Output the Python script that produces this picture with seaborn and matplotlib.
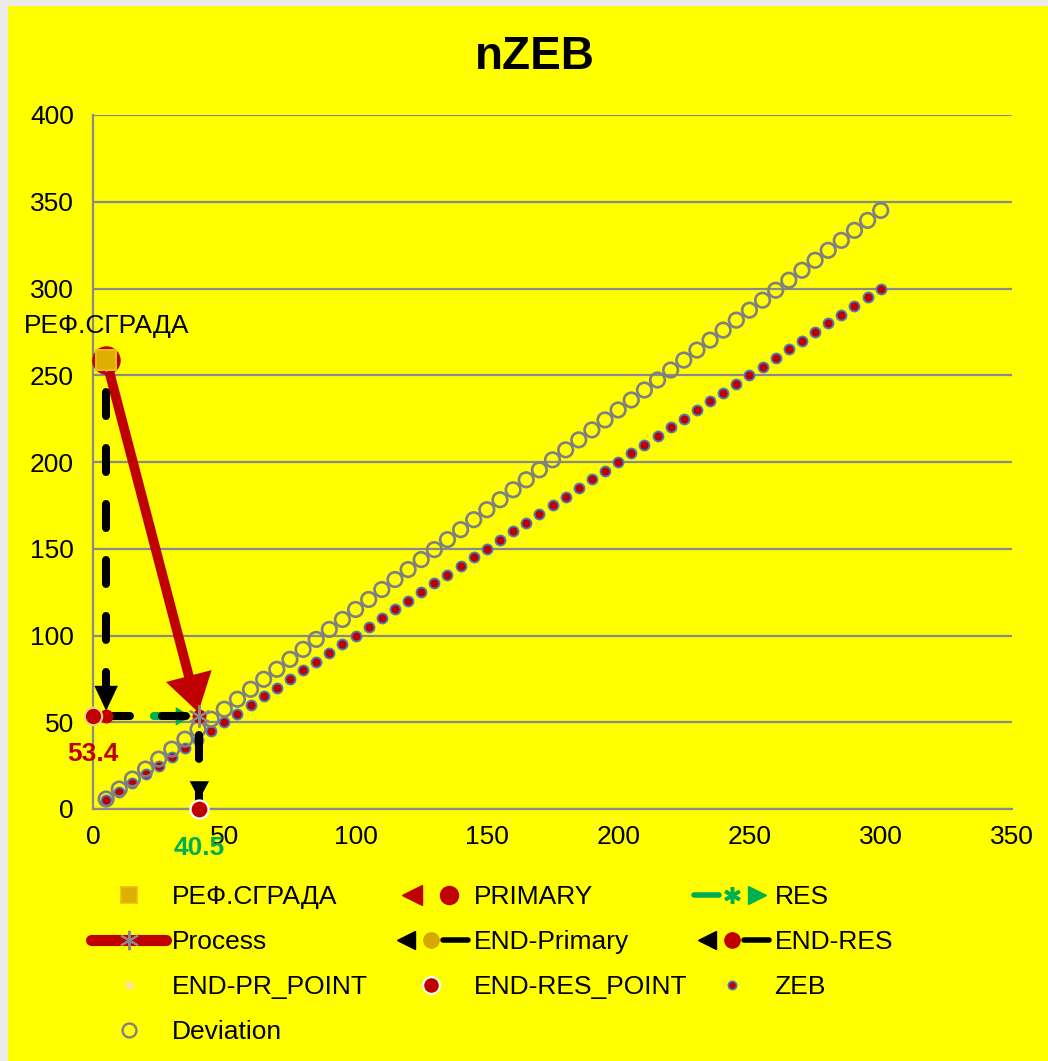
import matplotlib
matplotlib.use("Agg")
import matplotlib.pyplot as plt
import seaborn as sns
import pandas as pd
from matplotlib.lines import Line2D
from matplotlib.patches import Rectangle
from matplotlib.legend_handler import HandlerTuple

# ---------------- data ----------------
zeb_x = [5, 10, 15, 20, 25, 30, 35, 40, 45, 50, 55, 60, 65, 70, 75, 80, 85, 90, 95, 100,
         105, 110, 115, 120, 125, 130, 135, 140, 145, 150, 155, 160, 165, 170, 175, 180,
         185, 190, 195, 200, 205, 210, 215, 220, 225, 230, 235, 240, 245, 250, 255, 260,
         265, 270, 275, 280, 285, 290, 295, 300]
zeb_y = [5, 10, 15, 20, 25, 30, 35, 40, 45, 50, 55, 60, 65, 70, 75, 80, 85, 90, 95, 100,
         105, 110, 115, 120, 125, 130, 135, 140, 145, 150, 155, 160, 165, 170, 175, 180,
         185, 190, 195, 200, 205, 210, 215, 220, 225, 230, 235, 240, 245, 250, 255, 260,
         265, 270, 275, 280, 285, 290, 295, 300]
deviation_x = [5, 10, 15, 20, 25, 30, 35, 40, 45, 50, 55, 60, 65, 70, 75, 80, 85, 90, 95, 100,
               105, 110, 115, 120, 125, 130, 135, 140, 145, 150, 155, 160, 165, 170, 175, 180,
               185, 190, 195, 200, 205, 210, 215, 220, 225, 230, 235, 240, 245, 250, 255, 260,
               265, 270, 275, 280, 285, 290, 295, 300]
deviation_y = [5.75, 11.5, 17.25, 23, 28.75, 34.5, 40.25, 46, 51.75, 57.5, 63.25, 69, 74.75,
               80.5, 86.25, 92, 97.75, 103.5, 109.25, 115, 120.75, 126.5, 132.25, 138, 143.75,
               149.5, 155.25, 161, 166.75, 172.5, 178.25, 184, 189.75, 195.5, 201.25, 207,
               212.75, 218.5, 224.25, 230, 235.75, 241.5, 247.25, 253, 258.75, 264.5, 270.25,
               276, 281.75, 287.5, 293.25, 299, 304.75, 310.5, 316.25, 322, 327.75, 333.5,
               339.25, 345]

ref_x = [5]
ref_y = [259]
ref_label = "РЕФ.СГРАДА"

process_x = [5, 40.5]
process_y = [259, 53.4]

primary_x = [5, 5]
primary_y = [259, 53.4]
end_pr_point_x = [0]
end_pr_point_y = [53.4]

end_primary_x = [5, 5]
end_primary_y = [259, 53.4]

res_x = [5, 40.5]
res_y = [53.4, 53.4]

end_res_x = [5, 40.5, 40.5]
end_res_y = [53.4, 53.4, 0]

end_res_point_x = [40.5]
end_res_point_y = [0]

primary_value = 53.4
res_value = 40.5

x_ticks = [0, 50, 100, 150, 200, 250, 300, 350]
y_ticks = [0, 50, 100, 150, 200, 250, 300, 350, 400]

title = "nZEB"

# ---------------- style ----------------
RED = "#C00000"
GREEN = "#00B050"
GOLD = "#DDAF00"
GOLD_EDGE = "#F0B820"
BLUE = "#4A7EBB"
GREY = "#8A8A8A"
DEV_GREY = "#808080"
YELLOW = "#FFFF00"
FS = 19

sns.set_theme(style="white")
plt.rcParams["font.family"] = ["Liberation Sans", "DejaVu Sans"]
plt.rcParams["text.color"] = "black"

W, H = 1048, 1061
fig = plt.figure(figsize=(W / 100, H / 100), dpi=100)
fig.patch.set_facecolor("#EBEBEB")
fig.add_artist(Rectangle((8 / W, 0), 1, 1 - 6 / H, transform=fig.transFigure,
                         facecolor=YELLOW, edgecolor="none", zorder=-10))

ax = fig.add_axes([93 / W, 1 - 809 / H, 919 / W, 694 / H])
ax.set_facecolor("none")

# scatter series through seaborn
zeb_df = pd.DataFrame({"x": zeb_x, "y": zeb_y})
dev_df = pd.DataFrame({"x": deviation_x, "y": deviation_y})
sns.scatterplot(data=zeb_df, x="x", y="y", ax=ax, s=52, color=RED,
                edgecolor=BLUE, linewidth=1.3, zorder=3, legend=False)
sns.scatterplot(data=dev_df, x="x", y="y", ax=ax, s=110, color=DEV_GREY,
                linewidth=1.9, zorder=4, legend=False)
dev_coll = ax.collections[-1]
dev_coll.set_facecolor("none")
dev_coll.set_edgecolor(DEV_GREY)

# big red circle behind the reference point (PRIMARY start)
ax.plot(primary_x[:1], primary_y[:1], "o", ms=19.5, color=RED, zorder=5, clip_on=False)

# Process arrow
ax.annotate("", xy=(process_x[1], process_y[1]), xytext=(process_x[0], process_y[0]),
            arrowprops=dict(arrowstyle="simple,head_length=2.7,head_width=3.4,tail_width=0.7",
                            fc=RED, ec="none", lw=0, mutation_scale=10,
                            shrinkA=0, shrinkB=3), zorder=6)

# RES green dashed with head
ax.plot(res_x, res_y, color=GREEN, lw=5.8, linestyle=(1.0, (2.97, 3.98)),
        dash_capstyle="round", zorder=6)
ax.annotate("", xy=(res_x[1], res_y[1]), xytext=(res_x[0], res_y[0]),
            arrowprops=dict(arrowstyle="simple,head_length=1.1,head_width=1.35,tail_width=0",
                            fc=GREEN, ec="none", lw=0, mutation_scale=10,
                            shrinkA=0, shrinkB=6), zorder=6)

# END-Primary black dashed vertical with head
ax.plot(end_primary_x, end_primary_y, color="black", lw=5.8,
        linestyle=(2.97, (2.97, 3.98)), dash_capstyle="round", zorder=7)
ax.annotate("", xy=(end_primary_x[1], end_primary_y[1]),
            xytext=(end_primary_x[0], end_primary_y[0]),
            arrowprops=dict(arrowstyle="simple,head_length=1.8,head_width=1.7,tail_width=0",
                            fc="black", ec="none", lw=0, mutation_scale=10,
                            shrinkA=0, shrinkB=4), zorder=8)

# END-RES black dashed path with head
ax.plot(end_res_x, end_res_y, color="black", lw=5.8,
        linestyle=(0, (2.97, 3.98)), dash_capstyle="round", zorder=7)
ax.annotate("", xy=(end_res_x[2], end_res_y[2]), xytext=(end_res_x[1], end_res_y[1]),
            arrowprops=dict(arrowstyle="simple,head_length=1.3,head_width=1.4,tail_width=0",
                            fc="black", ec="none", lw=0, mutation_scale=10,
                            shrinkA=0, shrinkB=7), zorder=8)

# markers
ax.plot(end_res_x[:2], end_res_y[:2], "o", ms=9, color=RED, zorder=8, clip_on=False)
ax.plot(end_pr_point_x, end_pr_point_y, "o", ms=12.5, color=RED, mec="#F5D58A",
        mew=1.5, zorder=9, clip_on=False)
ax.plot(end_res_point_x, end_res_point_y, "o", ms=13, color=RED, mec="white",
        mew=1.6, zorder=9, clip_on=False)
ax.plot(process_x, process_y, linestyle="none", marker=(6, 2, 0), ms=16,
        mec=GREY, mew=1.5, zorder=9, clip_on=False)
ax.plot(ref_x, ref_y, "s", ms=14.5, color=GOLD, mec=GOLD_EDGE, mew=1.5, zorder=10,
        clip_on=False)

# labels
ax.annotate(ref_label, xy=(ref_x[0], ref_y[0]), xytext=(0, 24), textcoords="offset points",
            ha="center", va="center", fontsize=FS, color="black", zorder=11)
ax.annotate(f"{primary_value}", xy=(0, primary_value), xytext=(0, -27),
            textcoords="offset points", ha="center", va="center", fontsize=FS,
            fontweight="bold", color=RED, zorder=11)
ax.annotate(f"{res_value}", xy=(res_value, 0), xytext=(0, -28),
            textcoords="offset points", ha="center", va="center", fontsize=FS,
            fontweight="bold", color=GREEN, zorder=11, annotation_clip=False)

# axes
ax.set_xlim(0, 350)
ax.set_ylim(0, 400)
ax.set_xticks(x_ticks)
ax.set_yticks(y_ticks)
ax.set_xlabel("")
ax.set_ylabel("")
ax.yaxis.grid(True, color=GREY, lw=1.6)
ax.xaxis.grid(False)
ax.set_axisbelow(True)
for s in ["top", "right"]:
    ax.spines[s].set_visible(False)
for s in ["left", "bottom"]:
    ax.spines[s].set_color(GREY)
    ax.spines[s].set_linewidth(1.6)
ax.tick_params(axis="both", which="major", direction="out", length=5.8, width=1.6,
               color=GREY, labelsize=FS, labelcolor="black")
ax.tick_params(axis="x", pad=6)
ax.tick_params(axis="y", pad=8)
ax.set_zorder(2)

fig.text(535 / W, 1 - 57 / H, title, ha="center", va="center", fontsize=33,
         fontweight="bold", color="black")


# ---------------- legend ----------------
def mk(marker, color, ms, mec=None, mew=1.0):
    return Line2D([], [], linestyle="none", marker=marker, markersize=ms,
                  markerfacecolor=color, markeredgecolor=mec or color, markeredgewidth=mew)


h_ref = mk("s", GOLD, 11, GOLD_EDGE, 1.2)
h_primary = (mk("<", RED, 15), mk("o", RED, 13))
h_res = (Line2D([], [], color=GREEN, lw=4, solid_capstyle="round"),
         mk((6, 2, 0), GREEN, 12, GREEN, 2.5), mk(">", GREEN, 13))
h_process = Line2D([], [], color=RED, lw=8, solid_capstyle="round", marker=(6, 2, 0),
                   ms=14, mec=GREY, mew=1.5)
h_endp = (mk("<", "black", 13), mk("o", "#D4A800", 11), Line2D([], [], color="black", lw=4))
h_endres = (mk("<", "black", 13), mk("o", RED, 11), Line2D([], [], color="black", lw=4))
h_endpr_pt = mk("s", "#FFE3A6", 5)
h_endres_pt = mk("o", RED, 12, "white", 1.5)
h_zeb = mk("o", RED, 6, BLUE, 1.2)
h_dev = Line2D([], [], linestyle="none", marker="o", markersize=10,
               markerfacecolor="none", markeredgecolor=DEV_GREY, markeredgewidth=1.7)

columns = [
    ([h_ref, h_process, h_endpr_pt, h_dev],
     [ref_label, "Process", "END-PR_POINT", "Deviation"], 91),
    ([h_primary, h_endp, h_endres_pt],
     ["PRIMARY", "END-Primary", "END-RES_POINT"], 393),
    ([h_res, h_endres, h_zeb],
     ["RES", "END-RES", "ZEB"], 694),
]
for handles, labels, x0 in columns:
    fig.legend(handles, labels, loc="upper left", bbox_to_anchor=(x0 / W, 1 - 885 / H),
               frameon=False, fontsize=FS, handlelength=2.85, handletextpad=0.2,
               labelspacing=0.8, borderpad=0, borderaxespad=0, labelcolor="black",
               handler_map={tuple: HandlerTuple(ndivide=None, pad=0)})

fig.savefig("out.png", dpi=100, facecolor=fig.get_facecolor())
